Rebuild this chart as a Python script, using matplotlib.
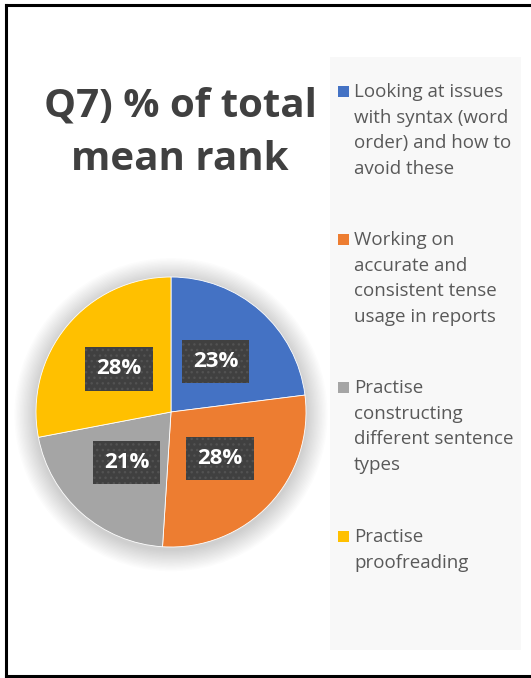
import matplotlib.pyplot as plt
from matplotlib.patches import Circle, Rectangle
from matplotlib.lines import Line2D

W, H = 531, 678

title = "Q7) % of total\nmean rank"
labels = [
    "Looking at issues\nwith syntax (word\norder) and how to\navoid these",
    "Working on\naccurate and\nconsistent tense\nusage in reports",
    "Practise\nconstructing\ndifferent sentence\ntypes",
    "Practise\nproofreading",
]
shares = [23, 28, 21, 28]
colors = ["#4472C4", "#ED7D31", "#A5A5A5", "#FFC000"]

plt.rcParams['font.family'] = ['Open Sans', 'DejaVu Sans']

fig = plt.figure(figsize=(W / 100, H / 100), dpi=100)


def fx(px):
    return px / W


def fy(py):
    return 1 - py / H


# pie centred at (171, 412) px, radius 135 px
cx, cy, r = 171, 412, 135
ax = fig.add_axes([fx(cx - r), fy(cy + r), 2 * r / W, 2 * r / H])

# soft shadow round the pie
for i in range(16):
    ax.add_patch(Circle((0.0, -0.02), 1.0 + 0.01 * (16 - i), color="black",
                        alpha=0.013, lw=0, clip_on=False, zorder=0))

wedges, texts = ax.pie(shares, colors=colors, startangle=90, counterclock=False,
                       labels=[f"{s}%" for s in shares], labeldistance=0.5,
                       wedgeprops=dict(lw=0.6, edgecolor="white", zorder=2))
for t in texts:
    t.set_ha("center")
    t.set_va("center")
    t.set_color("white")
    t.set_fontsize(16)
    t.set_fontweight("bold")
    t.set_bbox(dict(boxstyle="square,pad=0.5", facecolor="#404040",
                    edgecolor="#525252", hatch="...", lw=0))
    t.set_zorder(5)
ax.set_xlim(-1, 1)
ax.set_ylim(-1, 1)
ax.set_aspect("equal")
ax.axis("off")

# title
fig.text(fx(180), fy(133), title, ha="center", va="center", fontsize=29,
         fontweight="bold", color="#404040", linespacing=1.5)

# legend panel
fig.add_artist(Rectangle((fx(330), fy(650)), fx(521 - 330), (650 - 57) / H,
                         facecolor="#F8F8F8", edgecolor="none",
                         transform=fig.transFigure, zorder=0))
first_line = [92, 240, 388, 537]
for lab, col, y in zip(labels, colors, first_line):
    fig.add_artist(Rectangle((fx(338), fy(y + 5)), fx(11), 11 / H,
                             facecolor=col, edgecolor="none",
                             transform=fig.transFigure))
    fig.text(fx(354), fy(y - 9), lab, ha="left", va="top", fontsize=13.5,
             color="#595959", linespacing=1.55)

# outer border
for xs, ys in [((6, 531), (5, 5)), ((6, 6), (5, 676)), ((6, 531), (676, 676))]:
    fig.add_artist(Line2D([fx(x) for x in xs], [fy(y) for y in ys],
                          color="black", lw=2.2, transform=fig.transFigure))

fig.savefig("out.png", dpi=100, facecolor="white")
